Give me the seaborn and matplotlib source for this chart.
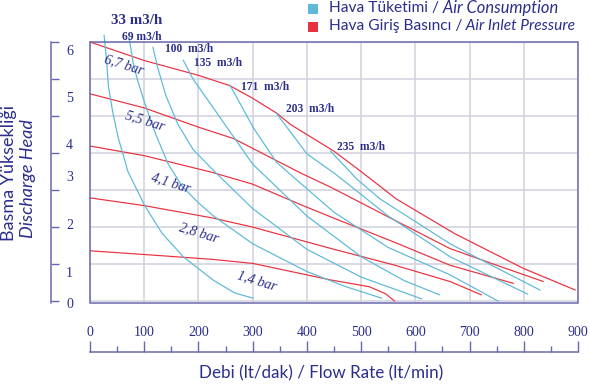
import matplotlib
matplotlib.use("Agg")
import matplotlib.pyplot as plt
from matplotlib.patches import Rectangle
import pandas as pd
import seaborn as sns

# ---- data ----
# air inlet pressure curves (red), flow in lt/min, head in bar
p67_x = [0, 100, 200, 258, 300, 345, 370, 450, 500, 565, 673, 800, 895]
p67_y = [7.0, 6.5, 6.1, 5.82, 5.48, 5.07, 4.77, 4.05, 3.5, 2.76, 1.82, 0.88, 0.30]
p55_x = [0, 100, 200, 265, 390, 445, 560, 664, 750, 836]
p55_y = [5.6, 5.22, 4.7, 4.39, 3.45, 3.07, 2.2, 1.42, 0.97, 0.53]
p41_x = [0, 100, 225, 300, 393, 450, 560, 664, 781]
p41_y = [4.19, 3.93, 3.48, 3.16, 2.58, 2.24, 1.6, 0.97, 0.48]
p28_x = [0, 100, 225, 300, 445, 560, 664, 722]
p28_y = [2.79, 2.58, 2.25, 2.0, 1.42, 0.98, 0.53, 0.17]
p14_x = [0, 100, 225, 300, 445, 515, 545, 562]
p14_y = [1.36, 1.26, 1.13, 1.02, 0.57, 0.39, 0.2, 0.0]

# air consumption curves (blue)
q33_x = [26, 30, 34, 42, 52, 70, 101, 133, 172, 227, 267, 301]
q33_y = [7.18, 6.6, 5.8, 5.1, 4.42, 3.5, 2.58, 1.83, 1.2, 0.57, 0.22, 0.08]
q69_x = [72, 80, 88, 101, 120, 144, 170, 199, 227, 300, 400, 470, 538]
q69_y = [7.12, 6.4, 5.95, 5.35, 4.55, 3.71, 3.1, 2.67, 2.31, 1.55, 0.8, 0.4, 0.08]
q100_x = [116, 125, 140, 162, 190, 227, 300, 400, 500, 612]
q100_y = [6.86, 6.3, 5.55, 4.78, 4.1, 3.54, 2.5, 1.4, 0.65, 0.06]
q135_x = [172, 190, 227, 300, 400, 500, 580, 645]
q135_y = [6.51, 6.0, 5.23, 3.7, 2.3, 1.2, 0.55, 0.17]
q171_x = [258, 301, 344, 450, 550, 664, 753]
q171_y = [5.84, 4.69, 3.75, 2.4, 1.45, 0.71, 0.0]
q203_x = [344, 400, 452, 550, 664, 807]
q203_y = [5.07, 3.98, 3.44, 2.3, 1.2, 0.19]
q235_x = [443, 492, 535, 664, 750, 830]
q235_y = [4.06, 3.30, 2.76, 1.55, 0.9, 0.30]

pressure_names = ["6,7 bar", "5,5 bar", "4,1 bar", "2,8 bar", "1,4 bar"]
consumption_names = ["33 m3/h", "69 m3/h", "100  m3/h", "135  m3/h",
                     "171  m3/h", "203  m3/h", "235  m3/h"]
x_ticks = list(range(0, 901, 100))
y_tick_labels = ["0", "1", "2", "3", "4", "5", "6"]

NAVY = "#2b2e8c"
AXIS = "#6767ad"
GRID = "#d3d3df"
RED = "#e8323f"
BLUE = "#5cb9d8"

curves = [
    (pressure_names[0], p67_x, p67_y, RED),
    (pressure_names[1], p55_x, p55_y, RED),
    (pressure_names[2], p41_x, p41_y, RED),
    (pressure_names[3], p28_x, p28_y, RED),
    (pressure_names[4], p14_x, p14_y, RED),
    (consumption_names[0], q33_x, q33_y, BLUE),
    (consumption_names[1], q69_x, q69_y, BLUE),
    (consumption_names[2], q100_x, q100_y, BLUE),
    (consumption_names[3], q135_x, q135_y, BLUE),
    (consumption_names[4], q171_x, q171_y, BLUE),
    (consumption_names[5], q203_x, q203_y, BLUE),
    (consumption_names[6], q235_x, q235_y, BLUE),
]
rows = []
for name, xs, ys, _ in curves:
    for x, y in zip(xs, ys):
        rows.append({"curve": name, "flow": x, "head": y})
df = pd.DataFrame(rows)
palette = {name: col for name, _, _, col in curves}

# ---- figure ----
sns.set_style("white")
W, H = 590, 384
fig = plt.figure(figsize=(W / 72, H / 72), dpi=72)
ax = fig.add_axes([90 / W, 1 - 303 / H, (578 - 90) / W, (303 - 42) / H])

sns.lineplot(data=df, x="flow", y="head", hue="curve", palette=palette,
             sort=False, estimator=None, legend=False, linewidth=1.2, ax=ax)
for line in ax.lines:
    line.set_clip_on(False)
    line.set_solid_joinstyle("round")

ax.set_xlim(0, 900)
ax.set_ylim(0, 7)
ax.set_xlabel("")
ax.set_ylabel("")
ax.grid(True, which="major", color=GRID, linewidth=1.6)
ax.set_axisbelow(True)

# frame around the plot area
ax.add_patch(Rectangle((0, 0), 1, 1, transform=ax.transAxes, fill=False,
                       edgecolor=AXIS, linewidth=1.5, clip_on=False, zorder=5))
ax.spines["top"].set_visible(False)
ax.spines["right"].set_visible(False)

# detached axes with inward ticks
ax.spines["left"].set_position(("outward", 39))
ax.spines["bottom"].set_position(("outward", 49))
for s in ["left", "bottom"]:
    ax.spines[s].set_color(AXIS)
    ax.spines[s].set_linewidth(1.5)

tick_font = {"family": "Liberation Serif", "size": 14}
ax.set_xticks(x_ticks)
ax.set_xticklabels([str(t) for t in x_ticks], fontdict=tick_font)
ax.set_xticks(range(50, 900, 100), minor=True)
ax.tick_params(axis="x", which="both", bottom=True)
ax.tick_params(axis="x", which="major", direction="in", length=11, width=1.4,
               color=AXIS, labelcolor=NAVY, pad=-26)
ax.tick_params(axis="x", which="minor", direction="in", length=6, width=1.4,
               color=AXIS)

ax.set_yticks(range(8))
ax.tick_params(axis="y", which="both", left=True)
ax.tick_params(axis="y", which="major", direction="in", length=8, width=1.4,
               color=AXIS, labelleft=False)
# the printed numbers sit off the grid in the original
ax.set_yticks([-0.05, 0.8, 2.09, 3.38, 4.24, 5.52, 6.78], minor=True)
ax.set_yticklabels(y_tick_labels, minor=True, fontdict=tick_font)
ax.tick_params(axis="y", which="minor", length=0, labelcolor=NAVY, pad=-22)

# pressure labels along the red curves
bar_pos = [(124, 65), (145, 121), (171, 183), (199, 233), (257, 281)]
for name, (px, py) in zip(pressure_names, bar_pos):
    fig.text(px / W, 1 - py / H, name, color=NAVY, family="Liberation Serif",
             style="italic", size=14, rotation=-17, rotation_mode="anchor",
             ha="center", va="center")

# consumption labels at the top of the blue curves
cons_pos = [(137, 20, 15), (142, 37, 11.5), (189, 49, 11.5), (218, 63, 11.5),
            (265, 87, 11.5), (310, 109, 11.5), (361, 147, 11.5)]
for name, (px, py, fs) in zip(consumption_names, cons_pos):
    fig.text(px / W, 1 - py / H, name, color=NAVY, family="Liberation Serif",
             weight="bold", size=fs, ha="center", va="center")

# legend
sans = "Lato"
renderer = fig.canvas.get_renderer()
legend_rows = [(BLUE, 8, "Hava Tüketimi /", " Air Consumption", 16.5),
               (RED, 26, "Hava Giriş Basıncı /", " Air Inlet Pressure", 15.5)]
for col, py, a, b, fs in legend_rows:
    fig.patches.append(Rectangle((308 / W, 1 - (py + 4.5) / H), 9 / W, 9 / H,
                                 transform=fig.transFigure, color=col,
                                 figure=fig))
    t1 = fig.text(329 / W, 1 - py / H, a, color=NAVY, family=sans, size=15.5,
                  va="center", ha="left")
    bb = t1.get_window_extent(renderer)
    fig.text(bb.x1 / W, 1 - py / H, b, color=NAVY, family=sans, size=fs,
             style="italic", va="center", ha="left")

# axis titles
fig.text(9 / W, 1 - 173 / H, "Basma Yüksekliği", color=NAVY, family=sans,
         size=18, rotation=90, ha="center", va="center")
fig.text(28 / W, 1 - 179 / H, "Discharge Head", color=NAVY, family=sans,
         size=18, style="italic", rotation=90, ha="center", va="center")
fig.text(321 / W, 1 - 373 / H, "Debi (lt/dak) / Flow Rate (lt/min)",
         color=NAVY, family=sans, size=17, ha="center", va="center")

fig.savefig("out.png", dpi=72)
